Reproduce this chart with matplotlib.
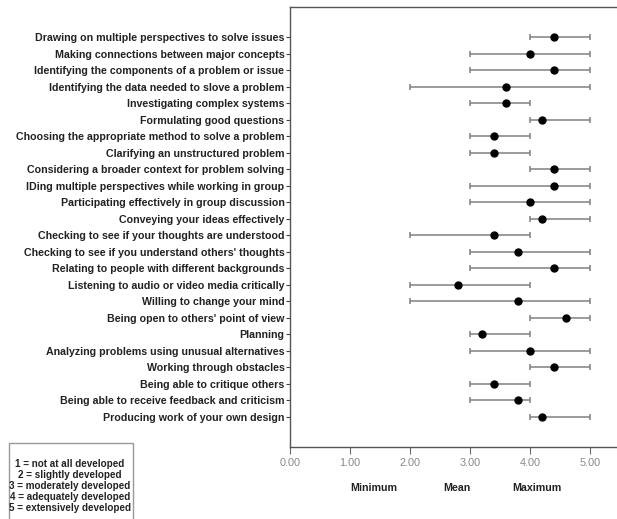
import numpy as np
import matplotlib
matplotlib.use("Agg")
from matplotlib import pyplot as plt
from matplotlib.patches import Rectangle

# skill items, top to bottom
items = [
    "Drawing on multiple perspectives to solve issues",
    "Making connections between major concepts",
    "Identifying the components of a problem or issue",
    "Identifying the data needed to slove a problem",
    "Investigating complex systems",
    "Formulating good questions",
    "Choosing the appropriate method to solve a problem",
    "Clarifying an unstructured problem",
    "Considering a broader context for problem solving",
    "IDing multiple perspectives while working in group",
    "Participating effectively in group discussion",
    "Conveying your ideas effectively",
    "Checking to see if your thoughts are understood",
    "Checking to see if you understand others' thoughts",
    "Relating to people with different backgrounds",
    "Listening to audio or video media critically",
    "Willing to change your mind",
    "Being open to others' point of view",
    "Planning",
    "Analyzing problems using unusual alternatives",
    "Working through obstacles",
    "Being able to critique others",
    "Being able to receive feedback and criticism",
    "Producing work of your own design",
]
minimum = [4, 3, 3, 2, 3, 4, 3, 3, 4, 3, 3, 4, 2, 3, 3, 2, 2, 4, 3, 3, 4, 3, 3, 4]
mean = [4.4, 4.0, 4.4, 3.6, 3.6, 4.2, 3.4, 3.4, 4.4, 4.4, 4.0, 4.2,
        3.4, 3.8, 4.4, 2.8, 3.8, 4.6, 3.2, 4.0, 4.4, 3.4, 3.8, 4.2]
maximum = [5, 5, 5, 5, 4, 5, 4, 4, 5, 5, 5, 5, 4, 5, 5, 4, 5, 5, 4, 5, 5, 4, 4, 5]
xticks = [0, 1, 2, 3, 4, 5]
scale_text = ["1 = not at all developed", "2 = slightly developed",
              "3 = moderately developed", "4 = adequately developed",
              "5 = extensively developed"]

plt.rcParams['font.family'] = ['Liberation Sans', 'DejaVu Sans']

fig = plt.figure(figsize=(6.17, 5.19), dpi=100)
ax = fig.add_axes([290/617, 1 - 447/519, 1 - 290/617, 440/519])

y = np.arange(len(items))
mn = np.array(mean)
lo = mn - np.array(minimum)
hi = np.array(maximum) - mn
ax.errorbar(mn, y, xerr=[lo, hi], fmt='none', ecolor='#808080', elinewidth=1.1,
            capsize=2.5, capthick=1.1)
ax.plot(mn, y, 'o', color='black', markersize=5)

ax.set_xlim(0, 5.45)
ax.set_ylim(len(items) - 1 + 1.82, -1.82)
ax.set_yticks(y)
ax.set_yticklabels(items, fontsize=7.7, fontweight='bold', color='#222222')
ax.set_xticks(xticks)
ax.set_xticklabels(["%.2f" % v for v in xticks], fontsize=7.8, color='#888888')
ax.tick_params(axis='y', length=3, width=0.8, color='#444444', pad=1)
ax.tick_params(axis='x', length=5, width=0.8, color='#666666', pad=3)
ax.spines['right'].set_visible(False)
for s in ['left', 'top', 'bottom']:
    ax.spines[s].set_color('#555555')
    ax.spines[s].set_linewidth(1.0)

# legend-like labels under the axis
for label, xv in [("Minimum", 1.4), ("Mean", 2.78), ("Maximum", 4.12)]:
    fig.text((290 + xv*60)/617, 1 - 488/519, label, ha='center', va='center',
             fontsize=7.7, fontweight='bold', color='#222222')

# scale key box
fig.add_artist(Rectangle((9/617, -0.02), 124/617, (519 - 443)/519 + 0.02,
                         transform=fig.transFigure, fill=False,
                         ec='#999999', lw=1.0))
fig.text(70/617, 1 - 486/519, "\n".join(scale_text), ha='center', va='center',
         fontsize=7.1, fontweight='bold', color='#222222', linespacing=1.12)

fig.savefig("out.png", dpi=100)
